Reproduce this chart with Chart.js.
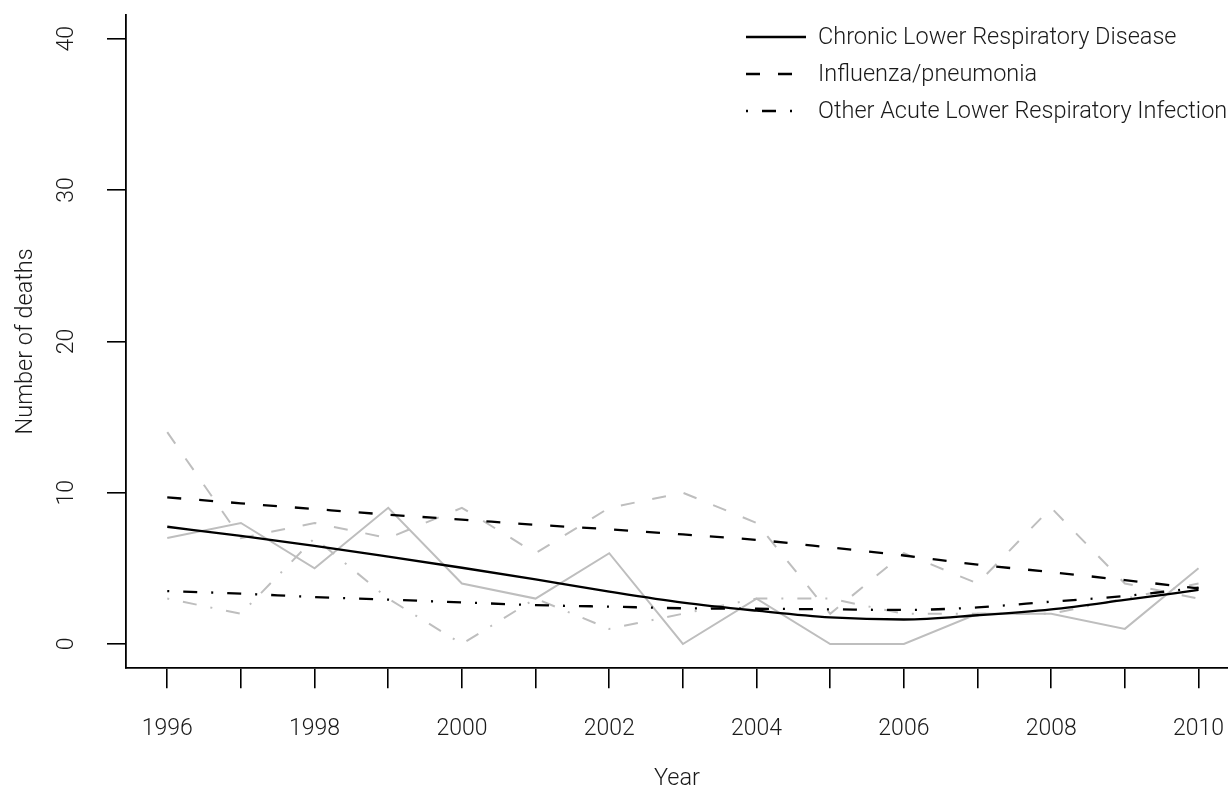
<!DOCTYPE html>
<html>
<head>
<meta charset="utf-8">
<script src="https://cdn.jsdelivr.net/npm/chart.js@4.4.0/dist/chart.umd.min.js"></script>
<style>
  html, body { margin: 0; padding: 0; background: #fff; }
  #chart { display: block; }
</style>
</head>
<body>
<canvas id="chart" width="1228" height="787"></canvas>
<script>
// Respiratory deaths per year: observed counts (grey) with smoothed trends (black)
const years = [1996, 1997, 1998, 1999, 2000, 2001, 2002, 2003, 2004, 2005, 2006, 2007, 2008, 2009, 2010];
const yTicks = [0, 10, 20, 30, 40];

const seriesNames = [
  "Chronic Lower Respiratory Disease",
  "Influenza/pneumonia",
  "Other Acute Lower Respiratory Infection"
];

// observed counts
const chronicObserved = [7, 8, 5, 9, 4, 3, 6, 0, 3, 0, 0, 2, 2, 1, 5];
const influenzaObserved = [14, 7, 8, 7, 9, 6, 9, 10, 8, 2, 6, 4, 9, 4, 3];
const otherAcuteObserved = [3, 2, 7, 3, 0, 3, 1, 2, 3, 3, 2, 2, 2, 3, 4];

// smoothed trends
const chronicTrend = [7.75, 7.14, 6.48, 5.77, 5.04, 4.27, 3.46, 2.73, 2.2, 1.76, 1.62, 1.9, 2.29, 2.91, 3.57];
const influenzaTrend = [9.69, 9.3, 8.92, 8.55, 8.22, 7.88, 7.58, 7.24, 6.88, 6.38, 5.85, 5.25, 4.75, 4.22, 3.68];
const otherAcuteTrend = [3.5, 3.33, 3.1, 2.93, 2.75, 2.57, 2.47, 2.36, 2.33, 2.29, 2.25, 2.42, 2.8, 3.17, 3.72];

const FONT = 'Roboto, "Liberation Sans", Arial, sans-serif';
const WEIGHT = 300;
const TEXT = "#1a1a1a";
const GREY = "#bebebe";

const SOLID = [];
const DASHED = [14, 18];
const DOTDASH = [2, 14, 14, 14];

const toPoints = vals => years.map((yr, i) => ({ x: yr, y: vals[i] }));

function trendLine(label, vals, dash) {
  return {
    label: label,
    data: toPoints(vals),
    borderColor: "#000",
    borderWidth: 2.3,
    borderDash: dash,
    borderCapStyle: "butt",
    cubicInterpolationMode: "monotone",
    pointRadius: 0
  };
}

function observedLine(label, vals, dash) {
  return {
    label: label,
    data: toPoints(vals),
    borderColor: GREY,
    borderWidth: 2,
    borderDash: dash,
    borderCapStyle: "butt",
    tension: 0,
    pointRadius: 0
  };
}

// black trends first so they end up drawn above the grey lines
const datasets = [
  trendLine(seriesNames[0], chronicTrend, SOLID),
  trendLine(seriesNames[1], influenzaTrend, DASHED),
  trendLine(seriesNames[2], otherAcuteTrend, DOTDASH),
  observedLine(seriesNames[0] + " (observed)", chronicObserved, SOLID),
  observedLine(seriesNames[1] + " (observed)", influenzaObserved, DASHED),
  observedLine(seriesNames[2] + " (observed)", otherAcuteObserved, DOTDASH)
];

// legend in the top-right corner, one row per trend line
const legendRows = [
  { label: seriesNames[0], dash: SOLID },
  { label: seriesNames[1], dash: DASHED },
  { label: seriesNames[2], dash: DOTDASH }
];

const cornerLegend = {
  id: "cornerLegend",
  afterDraw(chart) {
    const ctx = chart.ctx;
    ctx.save();
    ctx.font = WEIGHT + " 23.5px " + FONT;
    ctx.textBaseline = "middle";
    ctx.fillStyle = TEXT;
    ctx.strokeStyle = "#000";
    ctx.lineWidth = 2.3;
    ctx.lineCap = "butt";
    legendRows.forEach((row, i) => {
      const y = 37 + i * 37;
      ctx.beginPath();
      ctx.setLineDash(row.dash);
      ctx.moveTo(746, y);
      ctx.lineTo(806, y);
      ctx.stroke();
      ctx.fillText(row.label, 818, y + 1);
    });
    ctx.restore();
  }
};

// the axes sit flush with the canvas edges, so drop the label overhang padding
function noOverhang(s) {
  s.paddingLeft = 0;
  s.paddingRight = 0;
  s.paddingTop = 0;
  s.paddingBottom = 0;
}

const axisFont = { family: FONT, size: 23, weight: WEIGHT };
const titleFont = { family: FONT, size: 23.5, weight: WEIGHT, lineHeight: 0.64 };

new Chart(document.getElementById("chart"), {
  type: "line",
  data: { datasets: datasets },
  plugins: [cornerLegend],
  options: {
    responsive: false,
    animation: false,
    layout: { padding: { top: 14.6, right: 0, left: 0, bottom: 0 } },
    plugins: {
      legend: { display: false },
      tooltip: { enabled: false }
    },
    scales: {
      x: {
        type: "linear",
        min: 1995.44,
        max: 2010.4,
        afterBuildTicks: s => { s.ticks = years.map(v => ({ value: v })); },
        afterFit: s => { s.height = 787 - 668.2; noOverhang(s); },
        ticks: {
          autoSkip: false,
          maxRotation: 0,
          padding: 27,
          color: TEXT,
          font: axisFont,
          callback: v => (v % 2 === 0 ? String(v) : "")
        },
        grid: { drawOnChartArea: false, drawTicks: true, tickLength: 20, color: "#000", lineWidth: 1.6 },
        border: { display: true, color: "#000", width: 1.8 },
        title: {
          display: true,
          text: "Year",
          color: TEXT,
          font: titleFont,
          padding: { top: 0, bottom: 0 }
        }
      },
      y: {
        type: "linear",
        min: -1.6,
        max: 41.6,
        afterBuildTicks: s => { s.ticks = yTicks.map(v => ({ value: v })); },
        afterFit: s => { s.width = 126; noOverhang(s); },
        ticks: {
          minRotation: 90,
          maxRotation: 90,
          crossAlign: "center",
          padding: 27,
          color: TEXT,
          font: axisFont,
          callback: v => String(v)
        },
        grid: { drawOnChartArea: false, drawTicks: true, tickLength: 19, color: "#000", lineWidth: 1.6 },
        border: { display: true, color: "#000", width: 1.8 },
        title: {
          display: true,
          text: "Number of deaths",
          color: TEXT,
          font: titleFont,
          padding: { top: 18.7, bottom: 0 }
        }
      }
    }
  }
});
</script>
</body>
</html>
